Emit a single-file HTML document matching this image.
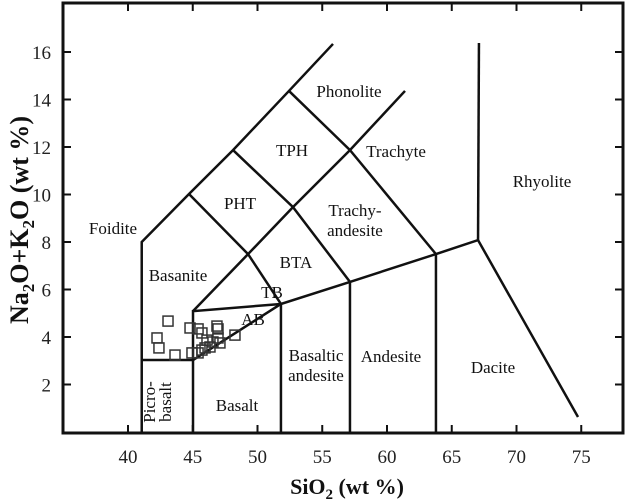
<!DOCTYPE html>
<html><head><meta charset="utf-8"><style>
html,body{margin:0;padding:0;background:#fff;}
svg{display:block;font-family:"Liberation Serif",serif;}
</style></head><body>
<svg id="c" width="627" height="499" xmlns="http://www.w3.org/2000/svg">
<g id="frame"></g><g id="bounds"></g><g id="pts"></g><g id="labels"></g>
</svg>
<script>
const xTicks=[40,45,50,55,60,65,70,75];
const yTicks=[2,4,6,8,10,12,14,16];
const sampleSiO2=[43.09,42.24,42.39,43.63,44.94,44.79,45.41,45.71,46.87,46.95,48.26,46.10,46.56,46.33,47.10,46.95,45.71,45.41,45.95];
const sampleAlk=[4.67,3.96,3.54,3.24,3.33,4.38,4.34,4.17,4.46,4.34,4.08,3.87,3.79,3.58,3.75,3.96,3.45,3.33,3.54];
const boundaries=[
 [[41.06,0],[41.06,8.0],[44.71,10.02],[48.11,11.87],[52.43,14.36],[55.83,16.34]],
 [[41.06,3.03],[45.02,3.03]],
 [[45.02,0],[45.02,5.09],[51.81,5.39],[57.14,6.32],[63.78,7.49],[67.03,8.08],[74.75,0.63]],
 [[67.03,8.08],[67.1,16.38]],
 [[51.81,0],[51.81,5.39]],[[57.14,0],[57.14,6.32]],[[63.78,0],[63.78,7.49]],
 [[45.02,3.03],[51.81,5.39]],
 [[45.02,5.09],[49.27,7.49],[52.74,9.47],[57.14,11.87],[61.39,14.36]],
 [[44.71,10.02],[49.27,7.49]],[[49.27,7.49],[51.81,5.39]],
 [[48.11,11.87],[52.74,9.47],[57.14,6.32]],
 [[52.43,14.36],[57.14,11.87],[63.78,7.49]]
];
const X=v=>128+(v-40)*12.95, Y=v=>432-v*23.75;
const NS="http://www.w3.org/2000/svg";
function mk(t,a,p){const e=document.createElementNS(NS,t);for(const k in a)e.setAttribute(k,a[k]);p.appendChild(e);return e;}
const fr=document.getElementById('frame');
let r=mk('rect',{x:63,y:3,width:560,height:430,fill:'none',stroke:'#111','stroke-width':3},fr);


xTicks.forEach(v=>{
 mk('line',{x1:X(v),x2:X(v),y1:433,y2:425,stroke:'#111','stroke-width':2},fr);
 mk('line',{x1:X(v),x2:X(v),y1:3,y2:11,stroke:'#111','stroke-width':2},fr);
 const t=mk('text',{x:X(v),y:463,'text-anchor':'middle','font-size':19,fill:'#222'},fr);t.textContent=v;
 
 
});
yTicks.forEach(v=>{
 mk('line',{x1:63,x2:71,y1:Y(v),y2:Y(v),stroke:'#111','stroke-width':2},fr);
 mk('line',{x1:623,x2:615,y1:Y(v),y2:Y(v),stroke:'#111','stroke-width':2},fr);
 const t=mk('text',{x:51,y:Y(v)+7,'text-anchor':'end','font-size':19,fill:'#222'},fr);t.textContent=v;
 
 
});
const bd=document.getElementById('bounds');
boundaries.forEach(b=>{
 const p=mk('polyline',{points:b.map(q=>X(q[0])+','+Y(q[1])).join(' '),fill:'none',stroke:'#111','stroke-width':2.5},bd);
 
 
});
const pg=document.getElementById('pts');
sampleSiO2.forEach((s,i)=>{
 const q=mk('rect',{x:X(s)-5,y:Y(sampleAlk[i])-5,width:10,height:10,fill:'none',stroke:'#333','stroke-width':1.5},pg);
 
 
});
const lg=document.getElementById('labels');
const L=[['Phonolite',349,97],['TPH',292,156],['Trachyte',396,157],['PHT',240,209],['Trachy-',355,216],['andesite',355,236],['Rhyolite',542,187],['Foidite',113,234],['Basanite',178,281],['BTA',296,268],['TB',272,298],['AB',253,325],['Basaltic',316,361],['andesite',316,381],['Andesite',391,362],['Dacite',493,373],['Basalt',237,411]];
L.forEach(l=>{const t=mk('text',{x:l[1],y:l[2],'text-anchor':'middle','font-size':17,fill:'#111'},lg);t.textContent=l[0];
 
 });
const pc=mk('text',{transform:'translate(165,402) rotate(-90)','text-anchor':'middle','font-size':17,fill:'#111'},lg);


mk('tspan',{x:0,dy:-10},pc).textContent='Picro-';
mk('tspan',{x:0,dy:16},pc).textContent='basalt';
const xl=mk('text',{x:347,y:494,'text-anchor':'middle','font-size':22,'font-weight':'bold',fill:'#111'},lg);


xl.innerHTML='SiO<tspan font-size="15" dy="5">2</tspan><tspan dy="-5"> (wt %)</tspan>';
const yl=mk('text',{transform:'translate(28,220) rotate(-90)','text-anchor':'middle','font-size':26,'font-weight':'bold',fill:'#111'},lg);


yl.innerHTML='Na<tspan font-size="17" dy="6">2</tspan><tspan dy="-6">O+K</tspan><tspan font-size="17" dy="6">2</tspan><tspan dy="-6">O (wt %)</tspan>';
</script>
</body></html>
